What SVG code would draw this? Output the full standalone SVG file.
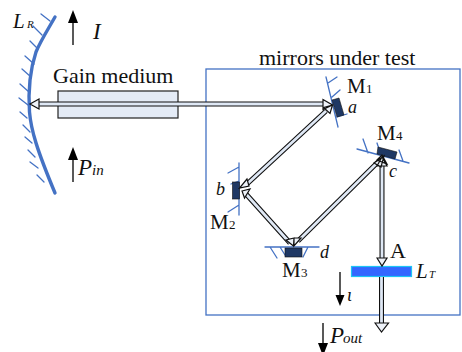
<svg xmlns="http://www.w3.org/2000/svg" width="462" height="352" viewBox="0 0 462 352">
<style>
text{font-family:"Liberation Serif","Times New Roman",serif;fill:#111}
.l{font-size:22px}
.m{font-size:21px}
.i{font-style:italic;font-size:23px}
.v{font-style:italic;font-size:18px}
.s{font-size:13px}
.si{font-size:15px;font-style:italic}
.ss{font-size:11px;font-style:italic}
.t{fill:none;stroke:#4472c4;stroke-width:1.3;stroke-linecap:round}
.b{fill:#1f3864;stroke:#111;stroke-width:.6}
.o{fill:none;stroke:#111;stroke-width:5}
.n{fill:none;stroke:#dfe8f5;stroke-width:2.8}
.h{fill:#eef2f9;stroke:#111;stroke-width:1.2;stroke-linejoin:miter}
.a{fill:none;stroke:#222;stroke-width:1.5}
.f{fill:#000}
</style>
<g id="test-box"><rect x="206" y="69" width="254" height="246" fill="none" stroke="#4472c4" stroke-width="1.3"/><text class="l" x="259" y="65">mirrors under test</text></g>
<g id="gain-medium"><rect x="58" y="91" width="120" height="27" fill="#e4ebf6" stroke="#222" stroke-width="1.2"/><text class="l" x="53" y="83">Gain medium</text></g>
<g id="LR">
<path d="M55 17C47 31 40 42 36 52C30 70 28 90 29.500 112C31 130 37 150 55 193" fill="none" stroke="#4472c4" stroke-width="3.400" stroke-linecap="round"/>
<path class="t" d="M41 14L50 21M33 26L42 35M30 41L38 49M25 56L34 64M22 69L31 77M20 84L29 92M19 98L28 105M20 112L27 118M23 125L30 132M25 137L32 143M28 150L35 157M30 162L38 168M37 175L44 182"/>
<text class="i" x="13" y="28" style="font-size:21px">L</text><text class="ss" x="27" y="28">R</text>
</g>
<g id="M1"><path class="t" d="M326 77L338 127M328 83L337 77M332 97L340 90M337 117L347 114"/><polygon class="b" points="332,100 339,98 344,115 337,117"/><text class="m" x="347" y="93">M</text><text class="s" x="366" y="93">1</text><text class="v" x="348" y="113">a</text></g>
<g id="M2"><path class="t" d="M239 163L239 215M228 173L239 167M231 184L239 181M228 212L239 205"/><rect class="b" x="232.500" y="182" width="7" height="17"/><text class="m" x="210" y="229">M</text><text class="s" x="229" y="229">2</text><text class="v" x="216" y="195">b</text></g>
<g id="M3"><path class="t" d="M265 247L319 247M270 247L277 258M280 247L285 255M308 247L303 257"/><rect class="b" x="285" y="248" width="17" height="9"/><text class="m" x="282" y="277">M</text><text class="s" x="301" y="277">3</text><text class="v" x="320" y="258">d</text></g>
<g id="M4"><path class="t" d="M357 149L409 163M363 139L368 153M377 143L379 149M399 150L403 161"/><polygon class="b" points="378,147 397,152 395,159 377,154"/><text class="m" x="377" y="140">M</text><text class="s" x="396" y="140">4</text><text class="v" x="389" y="177">c</text></g>
<g id="LT"><rect x="351.500" y="266.500" width="60" height="10" fill="#3366ff" stroke="#1cc4f4" stroke-width="1.200"/><text class="l" x="390" y="258">A</text><text class="i" x="416" y="278" style="font-size:21px">L</text><text class="ss" x="429" y="278">T</text></g>
<g id="connectors">
<path class="o" d="M36 104H325M326 111L247 184M246 194L290 243M298 241L378 162M382 166V260M381.500 277V324"/>
<path class="n" d="M36 104H325M326 111L247 184M246 194L290 243M298 241L378 162M382 166V260M381.500 277V324"/>
<path class="h" d="M39 99L30 104L39 109ZM323 99.500L332.500 105L323 109.500ZM323.500 107.500L332.500 105L330 113.500ZM247 179L239.500 188L249 186ZM242 191L250 189L244.500 198ZM286 240L293.500 246L294 238ZM301 238L294 246L294 238ZM374 163L384 156L381 167ZM377 160L382 155L387 164ZM377 166L382 157L387 166ZM377 258L382 266L387 258ZM375 323L381.500 332L388.500 323Z"/>
</g>
<g id="labels">
<path class="a" d="M73 45V20"/><polygon class="f" points="68,23 73,10 78,23"/><text class="i" x="93" y="39">I</text>
<path class="a" d="M73 182V158"/><polygon class="f" points="68,160 73,147 78,160"/><text class="i" x="78" y="175">P</text><text class="si" x="92" y="175">in</text>
<path class="a" d="M340 272V296"/><polygon class="f" points="335.500,295 340,306 344.500,295"/><text class="v" x="347" y="301">ι</text>
<path class="a" d="M323 323V345"/><polygon class="f" points="318,343 323,356 328,343"/><text class="i" x="330" y="343">P</text><text class="si" x="343" y="343">out</text>
</g>
</svg>
